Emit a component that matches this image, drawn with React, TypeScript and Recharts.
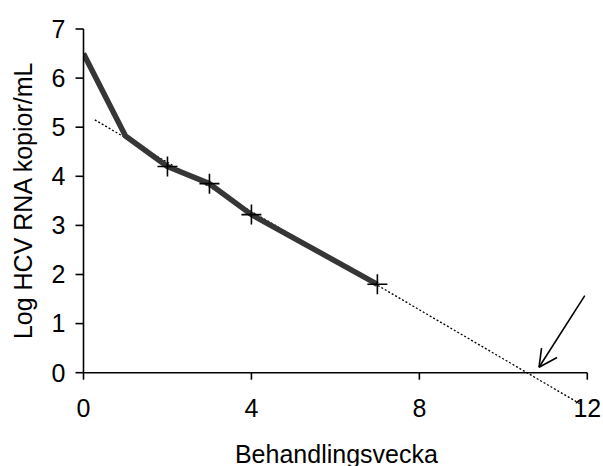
import React from "react";
import {
  ComposedChart,
  Line,
  Scatter,
  XAxis,
  YAxis,
  ReferenceLine,
} from "recharts";

const weeks = [0, 1, 2, 3, 4, 7];
const logRna = [6.5, 4.82, 4.2, 3.85, 3.22, 1.8];
const markedWeeks = [2, 3, 4, 7];
const xTicks = [0, 4, 8, 12];
const yTicks = [0, 1, 2, 3, 4, 5, 6, 7];
const trendWeeks = [0.27, 11.82];
const trendValues = [5.15, -0.63];
const arrowWeeks = [11.94, 10.85, 10.91, 11.28]; // tail, tip, head-left, head-right
const arrowValues = [1.57, 0.11, 0.5, 0.31];

const lineData = weeks.map((w, i) => ({ x: w, y: logRna[i] }));
const markerData = markedWeeks.map((w) => ({ x: w, y: logRna[weeks.indexOf(w)] }));

const FONT = "'Liberation Sans', Arial, sans-serif";

const Plus = (props: any) => {
  const { cx, cy } = props;
  if (cx == null || cy == null) return null;
  const h = 10;
  return (
    <g stroke="#000" strokeWidth={1.6}>
      <line x1={cx - h} y1={cy} x2={cx + h} y2={cy} />
      <line x1={cx} y1={cy - h} x2={cx} y2={cy + h} />
    </g>
  );
};

const YLabel = (props: any) => {
  const vb = props.viewBox || {};
  const x = 32;
  const y = (vb.y ?? 29) + (vb.height ?? 344) / 2 + 0;
  return (
    <text
      x={x}
      y={y}
      transform={`rotate(-90, ${x}, ${y})`}
      textAnchor="middle"
      fontSize={25}
      fontFamily={FONT}
      fill="#000"
    >
      Log HCV RNA kopior/mL
    </text>
  );
};

const XLabel = (props: any) => {
  const vb = props.viewBox || {};
  const x = (vb.x ?? 83.5) + (vb.width ?? 504) / 2 + 1;
  return (
    <text
      x={x}
      y={463}
      textAnchor="middle"
      fontSize={25}
      fontFamily={FONT}
      fill="#000"
    >
      Behandlingsvecka
    </text>
  );
};

export default function App() {
  const tickStyle = { fontSize: 25, fontFamily: FONT, fill: "#000" };
  return (
    <div style={{ position: "absolute", left: 0, top: 0, background: "#fff" }}>
      <ComposedChart
        width={603}
        height={466}
        margin={{ top: 29, right: 15.7, bottom: 0, left: 0 }}
      >
        <XAxis
          dataKey="x"
          type="number"
          domain={[0, 12]}
          ticks={xTicks}
          allowDataOverflow
          height={93.3}
          stroke="#000"
          strokeWidth={1.6}
          tickSize={7}
          tickMargin={20}
          tick={tickStyle}
          tickLine={{ stroke: "#000", strokeWidth: 1.6 }}
          label={<XLabel />}
        />
        <YAxis
          dataKey="y"
          type="number"
          domain={[0, 7]}
          ticks={yTicks}
          allowDataOverflow
          width={83.5}
          stroke="#000"
          strokeWidth={1.6}
          tickSize={8}
          tickMargin={10}
          tick={tickStyle}
          tickLine={{ stroke: "#000", strokeWidth: 1.6 }}
          label={<YLabel />}
        />
        <ReferenceLine
          segment={[
            { x: trendWeeks[0], y: trendValues[0] },
            { x: trendWeeks[1], y: trendValues[1] },
          ]}
          ifOverflow="visible"
          stroke="#000"
          strokeWidth={1.3}
          strokeDasharray="2 2"
        />
        <Line
          data={lineData}
          dataKey="y"
          type="linear"
          stroke="#363636"
          strokeWidth={5.5}
          strokeLinejoin="round"
          dot={false}
          activeDot={false}
          isAnimationActive={false}
        />
        <Scatter
          data={markerData}
          dataKey="y"
          shape={<Plus />}
          isAnimationActive={false}
        />
        <ReferenceLine
          segment={[
            { x: arrowWeeks[0], y: arrowValues[0] },
            { x: arrowWeeks[1], y: arrowValues[1] },
          ]}
          ifOverflow="visible"
          stroke="#000"
          strokeWidth={1.6}
        />
        <ReferenceLine
          segment={[
            { x: arrowWeeks[1], y: arrowValues[1] },
            { x: arrowWeeks[2], y: arrowValues[2] },
          ]}
          ifOverflow="visible"
          stroke="#000"
          strokeWidth={1.6}
        />
        <ReferenceLine
          segment={[
            { x: arrowWeeks[1], y: arrowValues[1] },
            { x: arrowWeeks[3], y: arrowValues[3] },
          ]}
          ifOverflow="visible"
          stroke="#000"
          strokeWidth={1.6}
        />
      </ComposedChart>
    </div>
  );
}
